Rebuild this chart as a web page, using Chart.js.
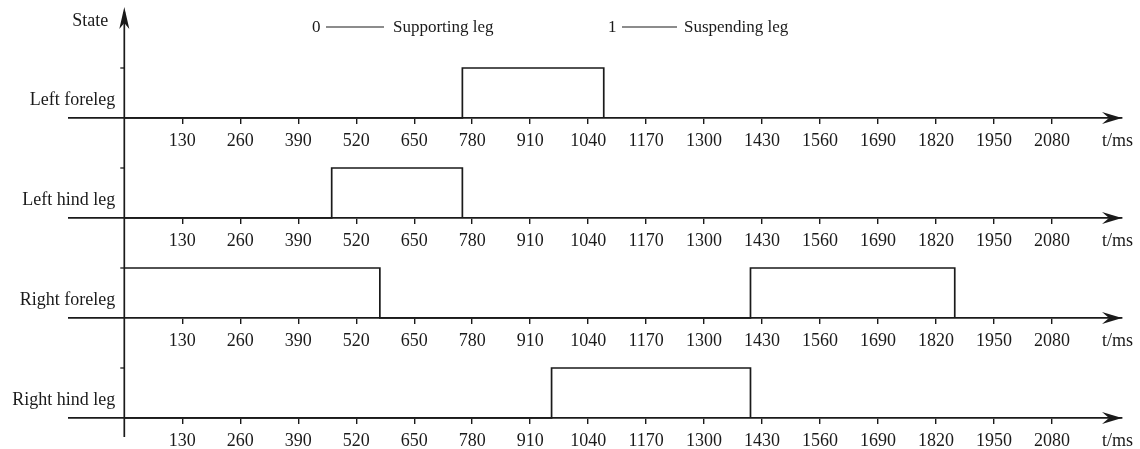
<!DOCTYPE html>
<html>
<head>
<meta charset="utf-8">
<script src="https://cdn.jsdelivr.net/npm/chart.js@4.4.1/dist/chart.umd.min.js"></script>
<style>
  html, body { margin: 0; padding: 0; background: #fff; }
  #wrap { position: relative; width: 1140px; height: 449px; overflow: hidden; }
  #wrap canvas { position: absolute; left: 0; }
</style>
</head>
<body>
<div id="wrap">
  <canvas id="leg0"></canvas>
  <canvas id="leg1"></canvas>
  <canvas id="leg2"></canvas>
  <canvas id="leg3"></canvas>
</div>
<script>
// leg names, top to bottom
const legNames = ["Left foreleg", "Left hind leg", "Right foreleg", "Right hind leg"];

// switching times (ms) and the state that starts at each of them
const leftForeTimes = [0, 758, 1075];
const leftForeStates = [0, 1, 0];
const leftHindTimes = [0, 465, 758];
const leftHindStates = [0, 1, 0];
const rightForeTimes = [0, 573, 1404, 1862];
const rightForeStates = [1, 0, 1, 0];
const rightHindTimes = [0, 958, 1404];
const rightHindStates = [0, 1, 0];

// time axis ticks
const tickValues = [130, 260, 390, 520, 650, 780, 910, 1040, 1170, 1300, 1430, 1560, 1690, 1820, 1950, 2080];
const tickLabels = ["130", "260", "390", "520", "650", "780", "910", "1040", "1170", "1300", "1430", "1560", "1690", "1820", "1950", "2080"];

// state legend
const stateCodes = ["0", "1"];
const stateNames = ["Supporting leg", "Suspending leg"];

const ink = "#1a1a1a";
const serif = '"Liberation Serif", "Times New Roman", serif';

const legSeries = [
    [leftForeTimes, leftForeStates],
    [leftHindTimes, leftHindStates],
    [rightForeTimes, rightForeStates],
    [rightHindTimes, rightHindStates]
];

// canvas placement of each panel
const panelTops = [0, 148, 248, 348];
const panelHeights = [148, 100, 100, 101];
const padTops = [68, 20, 20, 20];
const padBottoms = [0, 0, 0, 1];

const panelDecor = {
    id: "panelDecor",
    afterDraw(chart, args, opts) {
        const { ctx, chartArea } = chart;
        const xs = chart.scales.x, ys = chart.scales.y;
        const x0 = xs.getPixelForValue(0);
        const base = ys.getPixelForValue(0);
        const axisBottom = opts.last ? 89 : chart.height;
        const axisTop = opts.first ? 12 : 0;

        ctx.save();
        ctx.strokeStyle = ink;
        ctx.fillStyle = ink;
        ctx.lineWidth = 1.7;

        // vertical state axis
        ctx.beginPath();
        ctx.moveTo(x0, axisTop);
        ctx.lineTo(x0, axisBottom);
        ctx.stroke();

        // small tick at state 1
        const y1 = ys.getPixelForValue(1);
        ctx.lineWidth = 1.3;
        ctx.beginPath();
        ctx.moveTo(x0 - 4, y1);
        ctx.lineTo(x0, y1);
        ctx.stroke();

        // arrow head at the end of the time axis
        const xr = chartArea.right;
        ctx.beginPath();
        ctx.moveTo(xr, base);
        ctx.lineTo(xr - 20, base - 6);
        ctx.lineTo(xr - 13, base);
        ctx.lineTo(xr - 20, base + 6);
        ctx.closePath();
        ctx.fill();

        ctx.font = "18px " + serif;
        ctx.textBaseline = "middle";
        ctx.textAlign = "right";
        ctx.fillText(opts.name, x0 - 9, base - 18);
        ctx.textAlign = "left";
        ctx.fillText("t/ms", xr - 20, base + 23);

        if (opts.first) {
            // arrow head on the state axis
            ctx.beginPath();
            ctx.moveTo(x0, 7);
            ctx.lineTo(x0 - 5, 29);
            ctx.lineTo(x0, 23);
            ctx.lineTo(x0 + 5, 29);
            ctx.closePath();
            ctx.fill();

            ctx.textAlign = "right";
            ctx.fillText("State", x0 - 16, 21);

            // legend
            const legendX = [312, 608];
            ctx.font = "17px " + serif;
            stateCodes.forEach((code, i) => {
                const lx = legendX[i];
                ctx.textAlign = "left";
                ctx.fillText(code, lx, 28);
                ctx.lineWidth = 1.2;
                ctx.beginPath();
                ctx.moveTo(lx + 14, 27);
                ctx.lineTo(lx + (i === 0 ? 72 : 69), 27);
                ctx.stroke();
                ctx.fillText(stateNames[i], lx + (i === 0 ? 81 : 76), 28);
            });
        }
        ctx.restore();
    }
};

legSeries.forEach(([times, states], i) => {
    const canvas = document.getElementById("leg" + i);
    canvas.width = 1140;
    canvas.height = panelHeights[i];
    canvas.style.top = panelTops[i] + "px";

    new Chart(canvas.getContext("2d"), {
        type: "line",
        data: {
            datasets: [{
                label: legNames[i],
                data: times.map((t, k) => ({ x: t, y: states[k] })),
                stepped: true,
                borderColor: ink,
                borderWidth: 1.7,
                pointRadius: 0,
                fill: false,
                clip: false
            }]
        },
        options: {
            responsive: false,
            animation: false,
            events: [],
            layout: { padding: { left: 69, right: 18, top: padTops[i], bottom: padBottoms[i] } },
            scales: {
                x: {
                    type: "linear",
                    min: -124,
                    max: 2237,
                    afterBuildTicks: s => { s.ticks = tickValues.map(v => ({ value: v })); },
                    afterFit: s => { s.height = 30; },
                    grid: { drawOnChartArea: false, drawTicks: true, tickLength: 6, color: ink, lineWidth: 1.4 },
                    border: { display: true, color: ink, width: 1.7 },
                    ticks: {
                        color: ink,
                        font: { family: serif, size: 18 },
                        padding: 6,
                        maxRotation: 0,
                        autoSkip: false,
                        callback: (value, index) => tickLabels[index]
                    }
                },
                y: { display: false, min: 0, max: 1 }
            },
            plugins: {
                legend: { display: false },
                tooltip: { enabled: false },
                panelDecor: { name: legNames[i], first: i === 0, last: i === 3 }
            }
        },
        plugins: [panelDecor]
    });
});
</script>
</body>
</html>
